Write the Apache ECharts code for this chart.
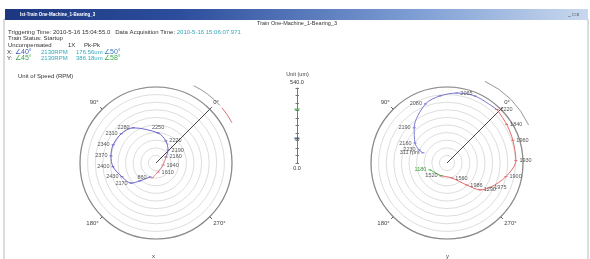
<!DOCTYPE html>
<html>
<head>
<meta charset="utf-8">
<script src="https://cdn.jsdelivr.net/npm/echarts@6/dist/echarts.min.js"></script>
<style>
html, body { margin: 0; padding: 0; background: #fff; }
#main { width: 590px; height: 259px; }
</style>
</head>
<body>
<div id="main"></div>
<script>
// amplitude scale (um) and angle ticks
const ampMax = 540;
const ampStep = 54;
const angleStep = 90;

// left plot (X): amplitude um, phase deg, speed label rpm
const xBlueAmp = [83, 126, 172, 214, 298, 323, 331, 324, 307, 261, 227, 171, 108];
const xBluePhase = [346, 2, 21, 41, 78, 95, 112, 126, 140, 157, 174, 183, 202];
const xBlueRpm = ['2160', '2190', '2220', '2250', '2280', '2310', '2340', '2370', '2400', '2430', '2170', '', '860'];
const xRedAmp = [83, 52, 66, 110];
const xRedPhase = [346, 299, 238, 210];
const xRedRpm = ['', '1940', '1610', ''];

// right plot (Y)
const yBlueAmp = [185, 219, 268, 342, 447, 479, 502, 516, 520];
const yBluePhase = [112, 110, 103, 88, 65, 51, 37, 22, 2];
const yBlueRpm = ['311 rpm', '2230', '2160', '2190', '2080', '', '2065', '', '2220'];
const yRedAmp = [520, 505, 495, 490, 430, 355, 303, 211, 112, 100];
const yRedPhase = [2, 348, 334, 317, 302, 286, 276, 267, 243, 200];
const yRedRpm = ['', '1840', '1960', '1930', '1900', '1975', '1290', '1986', '1560', '1520'];
const yGreenAmp = [100, 131];
const yGreenPhase = [200, 157];
const yGreenRpm = ['', '1180'];

// current 1X values shown in the scale
const scaleNames = ['X', 'Y'];
const scaleValues = [176.56, 386.18];

const chart = echarts.init(document.getElementById('main'));
const FONT = 'Liberation Sans';

const L = { cx: 156, cy: 163, r: 76 };
const R = { cx: 447, cy: 163, r: 76 };

function points(amp, phase, rpm, color) {
    return amp.map(function (a, i) {
        const scr = (phase[i] + 45) * Math.PI / 180;
        return {
            value: [a, phase[i]],
            label: {
                show: rpm[i] !== '',
                formatter: rpm[i],
                position: Math.cos(scr) < -0.1 ? 'left' : (Math.cos(scr) > 0.1 ? 'right' : 'top'),
                distance: 2,
                color: color,
                fontSize: 5.5,
                fontFamily: FONT
            }
        };
    });
}

function polarLine(idx, amp, phase, rpm, color, labelColor) {
    return {
        type: 'line',
        coordinateSystem: 'polar',
        polarIndex: idx,
        data: points(amp, phase, rpm, labelColor),
        smooth: 0.3,
        symbol: 'rect',
        symbolSize: [3, 1],
        lineStyle: { color: color, width: 1 },
        itemStyle: { color: color },
        animation: false,
        silent: true
    };
}

function keyLine(idx) {
    return {
        type: 'line',
        coordinateSystem: 'polar',
        polarIndex: idx,
        data: [[0, 0], [ampMax, 0]],
        symbol: 'none',
        lineStyle: { color: '#444', width: 1 },
        animation: false,
        silent: true
    };
}

function angleAxis(idx) {
    return {
        polarIndex: idx,
        type: 'value',
        min: 0,
        max: 360,
        interval: angleStep,
        startAngle: 45,
        clockwise: false,
        axisLine: { lineStyle: { color: '#8a8a8a', width: 1.2 } },
        axisTick: { show: true, length: 3, lineStyle: { color: '#555' } },
        axisLabel: { formatter: '{value}°', fontSize: 6, color: '#444', margin: 5, fontFamily: FONT },
        splitLine: { show: false }
    };
}

function radiusAxis(idx) {
    return {
        polarIndex: idx,
        type: 'value',
        min: 0,
        max: ampMax,
        interval: ampStep,
        axisLine: { show: false },
        axisTick: { show: false },
        axisLabel: { show: false },
        splitLine: { lineStyle: { color: '#dedede', width: 1 } }
    };
}

function arc(c, rr, a0, a1, color) {
    return {
        type: 'arc',
        shape: { cx: c.cx, cy: c.cy, r: rr, startAngle: -a0 * Math.PI / 180, endAngle: -a1 * Math.PI / 180, clockwise: true },
        style: { stroke: color, lineWidth: 1, fill: null },
        silent: true
    };
}

function txt(x, y, text, size, color, extra) {
    return {
        type: 'text',
        x: x, y: y,
        style: Object.assign({ text: text, fontSize: size, fill: color, fontFamily: FONT, verticalAlign: 'middle' }, extra || {}),
        silent: true
    };
}

const option = {
    animation: false,
    backgroundColor: '#fff',
    polar: [
        { center: [L.cx, L.cy], radius: L.r },
        { center: [R.cx, R.cy], radius: R.r }
    ],
    angleAxis: [angleAxis(0), angleAxis(1)],
    radiusAxis: [radiusAxis(0), radiusAxis(1)],
    grid: { left: 297, top: 88, width: 1, height: 75 },
    xAxis: { type: 'value', min: -1, max: 1, show: false },
    yAxis: [
        {
            type: 'value', min: 0, max: ampMax, interval: ampStep,
            name: 'Unit (um)', nameLocation: 'end', nameGap: 11,
            nameTextStyle: { fontSize: 5.5, color: '#444', fontFamily: FONT, align: 'center' },
            axisLine: { show: true, lineStyle: { color: '#777' } },
            axisTick: { show: true, length: 2, lineStyle: { color: '#777' } },
            splitLine: { show: false },
            axisLabel: {
                margin: 0, align: 'center', fontFamily: FONT,
                formatter: function (v) {
                    if (v === ampMax) return '{t|' + v.toFixed(1) + '}';
                    if (v === 0) return '{b|' + v.toFixed(1) + '}';
                    return '';
                },
                rich: {
                    t: { fontSize: 5.5, color: '#333', padding: [0, 0, 11, 0], fontFamily: FONT },
                    b: { fontSize: 5.5, color: '#333', padding: [11, 0, 0, 0], fontFamily: FONT }
                }
            }
        },
        {
            type: 'value', min: 0, max: ampMax, interval: ampStep, position: 'left',
            axisLine: { show: false },
            axisTick: { show: true, inside: true, length: 2, lineStyle: { color: '#777' } },
            axisLabel: { show: false },
            splitLine: { show: false }
        }
    ],
    series: [
        keyLine(0),
        polarLine(0, xBlueAmp, xBluePhase, xBlueRpm, '#6a66c8', '#555'),
        polarLine(0, xRedAmp, xRedPhase, xRedRpm, '#e07a8a', '#555'),
        keyLine(1),
        polarLine(1, yBlueAmp, yBluePhase, yBlueRpm, '#7a78d0', '#555'),
        polarLine(1, yRedAmp, yRedPhase, yRedRpm, '#e06a6a', '#555'),
        polarLine(1, yGreenAmp, yGreenPhase, yGreenRpm, '#4cae4c', '#3a9a3a'),
        {
            type: 'scatter',
            data: scaleValues.map(function (v, i) { return { name: scaleNames[i], value: [-1, v] }; }),
            symbol: 'rect',
            symbolSize: [5, 2],
            itemStyle: { color: function (p) { return p.dataIndex === 0 ? '#334466' : '#55b055'; } },
            silent: true
        }
    ],
    graphic: [
        // window frame
        { type: 'rect', shape: { x: 4, y: 19, width: 584, height: 241 }, style: { fill: null, stroke: '#b8b8b8', lineWidth: 1 }, silent: true },
        // title bar
        {
            type: 'rect', shape: { x: 5, y: 9, width: 583, height: 11 }, silent: true,
            style: {
                fill: new echarts.graphic.LinearGradient(0, 0, 1, 0, [
                    { offset: 0, color: '#1c3780' },
                    { offset: 0.3, color: '#2c4e9c' },
                    { offset: 0.7, color: '#7d9dd4' },
                    { offset: 1, color: '#c9d8ee' }
                ])
            }
        },
        txt(20, 14.5, 'Ist-Train One-Machine_1-Bearing_3', 4.5, '#fff', { fontWeight: 'bold' }),
        txt(568, 14.5, '_ □ x', 5, '#333'),
        txt(297, 23.5, 'Train One-Machine_1-Bearing_3', 5.5, '#333', { align: 'center' }),
        {
            type: 'text', x: 8, y: 32, silent: true,
            style: {
                text: '{a|Triggering Time: 2010-5-16 15:04:55.0   Data Acquisition Time: }{b|2010-5-16 15:06:07.971}',
                verticalAlign: 'middle',
                rich: {
                    a: { fontSize: 6, fill: '#333', fontFamily: FONT },
                    b: { fontSize: 6, fill: '#35a7bb', fontFamily: FONT }
                }
            }
        },
        txt(8, 38.5, 'Train Status: Startup', 6, '#333'),
        txt(8, 45, 'Uncompensated', 6, '#333'),
        txt(68, 45, '1X', 6, '#333'),
        txt(84, 45, 'Pk-Pk', 6, '#333'),
        txt(7, 52, 'X:', 6, '#333'),
        txt(15, 52, '∠40°', 7, '#3a58c0'),
        txt(41, 52, '2130RPM', 6, '#35a7bb'),
        txt(76, 52, '176.56um', 6, '#35a7bb'),
        txt(104, 52, '∠50°', 7, '#3a7ab8'),
        txt(7, 58.5, 'Y:', 6, '#333'),
        txt(15, 58.5, '∠45°', 7, '#3ea84a'),
        txt(41, 58.5, '2130RPM', 6, '#35a7bb'),
        txt(76, 58.5, '386.18um', 6, '#35a7bb'),
        txt(104, 58.5, '∠58°', 7, '#3ea84a'),
        txt(18, 76, 'Unit of Speed (RPM)', 6, '#333'),
        txt(152, 256, 'x', 6, '#444'),
        txt(446, 256, 'y', 6, '#444'),
        // outer phase arcs
        arc(L, 86, 64, 42, '#999'),
        arc(L, 86, 40, 28, '#e07070'),
        arc(R, 90, 65, 25, '#999')
    ]
};

chart.setOption(option);
</script>
</body>
</html>
